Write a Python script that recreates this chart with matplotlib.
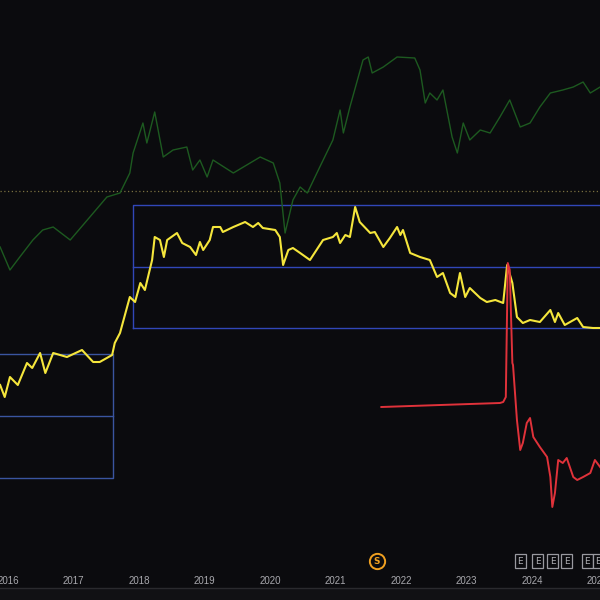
import matplotlib.pyplot as plt

# time in decimal years, levels in chart units (no price scale shown)
green_t = [2015.88, 2016.03, 2016.18, 2016.38, 2016.53, 2016.69, 2016.95, 2017.25, 2017.51, 2017.71,
           2017.86, 2017.91, 2018.06, 2018.12, 2018.24, 2018.37, 2018.52, 2018.73, 2018.82, 2018.93,
           2019.04, 2019.13, 2019.44, 2019.85, 2020.05, 2020.15, 2020.23, 2020.35, 2020.46, 2020.57,
           2020.76, 2020.96, 2021.07, 2021.12, 2021.22, 2021.42, 2021.50, 2021.56, 2021.73, 2021.94,
           2022.21, 2022.29, 2022.37, 2022.44, 2022.55, 2022.64, 2022.78, 2022.86, 2022.95, 2023.05,
           2023.21, 2023.36, 2023.51, 2023.66, 2023.82, 2023.97, 2024.12, 2024.28, 2024.47, 2024.63,
           2024.78, 2024.89, 2025.04]
green_v = [353, 330, 343, 360, 370, 373, 360, 383, 403, 407,
           427, 447, 477, 457, 488, 443, 450, 453, 430, 440,
           423, 440, 427, 443, 437, 417, 367, 400, 413, 407,
           433, 460, 490, 467, 493, 540, 543, 527, 533, 543,
           542, 530, 497, 507, 500, 510, 463, 447, 477, 460,
           470, 467, 483, 500, 473, 477, 493, 507, 510, 513,
           518, 507, 513]

yellow_t = [2015.88, 2015.95, 2016.03, 2016.15, 2016.29, 2016.37, 2016.49, 2016.57, 2016.69, 2016.90,
            2017.13, 2017.30, 2017.40, 2017.59, 2017.63, 2017.71, 2017.86, 2017.94, 2018.02, 2018.09,
            2018.20, 2018.24, 2018.32, 2018.38, 2018.43, 2018.58, 2018.66, 2018.78, 2018.87, 2018.93,
            2018.98, 2019.08, 2019.13, 2019.24, 2019.28, 2019.44, 2019.62, 2019.74, 2019.82, 2019.89,
            2020.08, 2020.15, 2020.20, 2020.28, 2020.35, 2020.46, 2020.61, 2020.69, 2020.81, 2020.96,
            2021.02, 2021.07, 2021.15, 2021.22, 2021.30, 2021.37, 2021.53, 2021.60, 2021.73, 2021.83,
            2021.94, 2021.99, 2022.03, 2022.14, 2022.29, 2022.44, 2022.55, 2022.64, 2022.75, 2022.83,
            2022.90, 2022.98, 2023.05, 2023.21, 2023.31, 2023.44, 2023.56, 2023.62, 2023.70, 2023.77,
            2023.86, 2023.97, 2024.12, 2024.28, 2024.35, 2024.40, 2024.50, 2024.69, 2024.78, 2024.93,
            2025.04]
yellow_v = [215, 203, 223, 215, 237, 232, 247, 227, 247, 243,
            250, 238, 238, 245, 257, 267, 303, 298, 317, 310,
            340, 363, 360, 343, 360, 367, 357, 353, 345, 358,
            350, 360, 373, 373, 368, 373, 378, 373, 377, 372,
            370, 363, 335, 350, 352, 347, 340, 348, 360, 363,
            367, 357, 365, 363, 393, 378, 367, 368, 353, 362,
            373, 365, 370, 347, 343, 340, 323, 327, 307, 303,
            327, 303, 312, 302, 298, 300, 297, 335, 317, 283,
            277, 280, 278, 290, 278, 287, 275, 282, 273, 272,
            272]

red_t = [2021.70, 2022.60, 2023.51, 2023.56, 2023.60, 2023.63, 2023.66, 2023.70, 2023.71, 2023.77,
         2023.82, 2023.86, 2023.92, 2023.97, 2024.02, 2024.12, 2024.23, 2024.28, 2024.31, 2024.35,
         2024.40, 2024.47, 2024.53, 2024.63, 2024.69, 2024.78, 2024.89, 2024.96, 2025.04]
red_v = [193, 195, 197, 198, 203, 337, 330, 237, 235, 180,
         150, 157, 177, 182, 163, 153, 143, 123, 93, 107,
         140, 137, 142, 123, 120, 123, 127, 140, 133]

# range boxes: (start, end, low, mid, high)
box1 = (2015.80, 2017.60, 122, 184, 246)
box2 = (2017.91, 2025.20, 272, 333, 395)
ref_level = 409

years = list(range(2016, 2026))
year_labels = [str(y) for y in years]
event_s = 2021.63
event_e = [2023.82, 2024.09, 2024.32, 2024.53, 2024.84, 2025.01]
marker_level = 39

BG = "#0b0b0e"

fig = plt.figure(figsize=(6, 6), dpi=100, facecolor="#111114")
ax = fig.add_axes([0, 12 / 600, 1, 588 / 600])
ax.set_facecolor(BG)
ax.set_xlim(2015.878, 2025.038)
ax.set_ylim(12, 600)
for s in ax.spines.values():
    s.set_visible(False)
ax.set_yticks([])

ax.axhline(ref_level, color="#7a7040", lw=0.9, ls=(0, (1, 2)), zorder=1)

for x0, x1, lo, mid, hi in (box1, box2):
    col = "#3a55a0" if x1 < 2020 else "#3147b8"
    ax.plot([x0, x1, x1, x0, x0], [lo, lo, hi, hi, lo], color=col, lw=1.0, zorder=2)
    ax.plot([x0, x1], [mid, mid], color=col, lw=1.0, zorder=2)

ax.plot(green_t, green_v, color="#1d5a20", lw=1.0, zorder=3)
ax.plot(yellow_t, yellow_v, color="#f5e63c", lw=1.5, zorder=4)
ax.plot(red_t, red_v, color="#e0323a", lw=1.4, zorder=5)

ax.set_xticks(years)
ax.set_xticklabels(year_labels)
ax.tick_params(axis="x", length=0, pad=-9, labelsize=7, labelcolor="#a8a8ad")
for lab in ax.get_xticklabels():
    lab.set_fontfamily("Liberation Sans")

# event markers above the time axis
ax.plot([event_s], [marker_level], marker="o", ms=11, mfc="none", mec="#f0a020",
        mew=1.4, ls="none", zorder=6, clip_on=False)
ax.text(event_s, marker_level, "S", color="#f0a020", fontsize=6.5, ha="center",
        va="center", fontweight="bold", zorder=7)
for t in event_e:
    ax.text(t, marker_level, "E", color="#b0b0b5", fontsize=6.5, ha="center", va="center",
            zorder=7, clip_on=True,
            bbox=dict(boxstyle="square,pad=0.3", fc=BG, ec="#9a9aa0", lw=0.9))

fig.add_artist(plt.Line2D([0, 1], [12 / 600, 12 / 600], color="#2a2a2e", lw=1))

fig.savefig("out.png", dpi=100, facecolor=fig.get_facecolor())
